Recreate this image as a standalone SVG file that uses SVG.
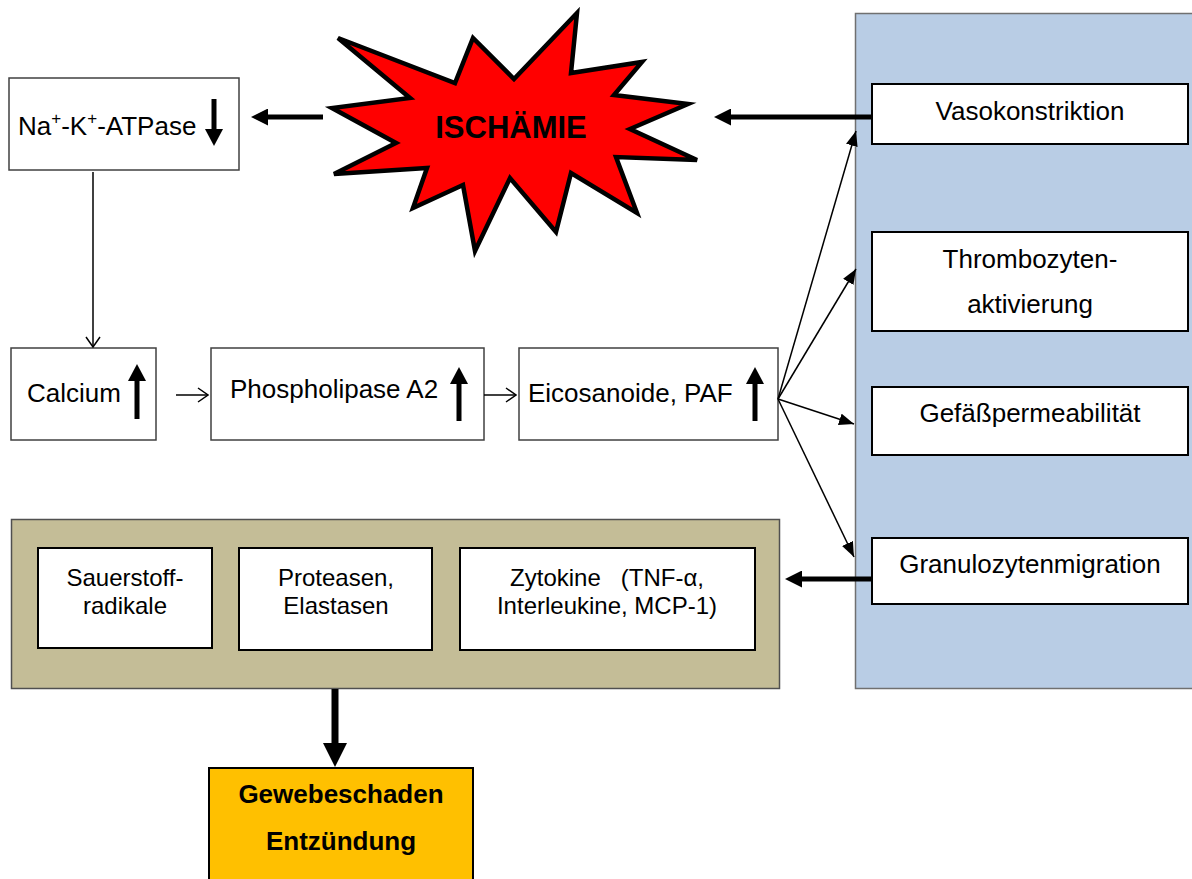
<svg xmlns="http://www.w3.org/2000/svg" width="1192" height="879" viewBox="0 0 1192 879">
<style>
text{font-family:"Liberation Sans",Arial,sans-serif;font-size:26px;fill:#000}
.b{font-weight:bold}
.c{text-anchor:middle}
.s{font-size:24px}
.sup{font-size:17px}
.box{fill:#fff;stroke:#404040;stroke-width:1.5}
.wbox{fill:#fff;stroke:#000;stroke-width:2}
.thin{stroke:#000;stroke-width:1.5;fill:none}
.thick{stroke:#000;stroke-width:5;fill:none}
</style>
<defs>
<marker id="hA" markerUnits="userSpaceOnUse" markerWidth="17" markerHeight="17" viewBox="0 0 17 17" refX="0" refY="8.5" orient="auto"><path d="M0,0 L17,8.5 L0,17 z" fill="#000"/></marker>
<marker id="hB" markerUnits="userSpaceOnUse" markerWidth="24" markerHeight="24" viewBox="0 0 24 24" refX="0" refY="12" orient="auto"><path d="M0,0 L24,12 L0,24 z" fill="#000"/></marker>
<marker id="hC" markerUnits="userSpaceOnUse" markerWidth="17" markerHeight="18" viewBox="0 0 17 18" refX="0" refY="9" orient="auto"><path d="M0,0 L17,9 L0,18 z" fill="#000"/></marker>
<marker id="hD" markerUnits="userSpaceOnUse" markerWidth="15" markerHeight="12" viewBox="0 0 15 12" refX="15" refY="6" orient="auto"><path d="M0,0 L15,6 L0,12 z" fill="#000"/></marker>
<marker id="hV" markerUnits="userSpaceOnUse" markerWidth="12" markerHeight="16" viewBox="-1 -1 12 16" refX="10" refY="7" orient="auto"><path d="M0,0 L10,7 L0,14" fill="none" stroke="#000" stroke-width="1.5"/></marker>
</defs>

<g id="panel-right">
<rect x="855.5" y="13.5" width="340" height="675" fill="#B9CDE5" stroke="#707070" stroke-width="1.5"/>
</g>
<g id="panel-bottom">
<rect x="11.5" y="519.5" width="768" height="169" fill="#C4BD97" stroke="#505050" stroke-width="1.5"/>
</g>

<g id="ischaemie">
<polygon points="338,38 455,83 473,38 514,79 577,13 571,73 642,62 614,95 688,104 630,129 697,160 616,157 637,213 571,173 556,232 510,178 475,251 463,185 413,208 427,168 334,174 396,143 332,108 410,98" fill="#FF0000" stroke="#000" stroke-width="4.5" stroke-linejoin="miter"/>
<text class="b c" x="511" y="138" style="font-size:31px">ISCHÄMIE</text>
</g>

<g id="na-k-atpase">
<rect class="box" x="9" y="78" width="230" height="92"/>
<text x="18" y="135">Na<tspan class="sup" dy="-11">+</tspan><tspan dy="11">-K</tspan><tspan class="sup" dy="-11">+</tspan><tspan dy="11">-ATPase</tspan></text>
<line class="thick" x1="214" y1="99" x2="214" y2="129" marker-end="url(#hC)"/>
</g>

<g id="calcium">
<rect class="box" x="11" y="348" width="145" height="92"/>
<text x="27" y="402">Calcium</text>
<line class="thick" x1="137" y1="419" x2="137" y2="381" marker-end="url(#hC)"/>
</g>

<g id="phospholipase">
<rect class="box" x="211" y="348" width="273" height="92"/>
<text x="230" y="398">Phospholipase A2</text>
<line class="thick" x1="459" y1="421" x2="459" y2="384" marker-end="url(#hC)"/>
</g>

<g id="eicosanoide">
<rect class="box" x="519" y="348" width="259" height="92"/>
<text x="528" y="402">Eicosanoide, PAF</text>
<line class="thick" x1="755" y1="421" x2="755" y2="384" marker-end="url(#hC)"/>
</g>

<g id="vasokonstriktion">
<rect class="wbox" x="872" y="84" width="316" height="60"/>
<text class="c" x="1030" y="120">Vasokonstriktion</text>
</g>

<g id="thrombozyten">
<rect class="wbox" x="872" y="232" width="316" height="99"/>
<text class="c" x="1030" y="268">Thrombozyten-</text>
<text class="c" x="1030" y="313">aktivierung</text>
</g>

<g id="gefaesspermeabilitaet">
<rect class="wbox" x="872" y="387" width="316" height="68"/>
<text class="c" x="1030" y="422">Gefäßpermeabilität</text>
</g>

<g id="granulozytenmigration">
<rect class="wbox" x="872" y="538" width="316" height="66"/>
<text class="c" x="1030" y="573">Granulozytenmigration</text>
</g>

<g id="sauerstoffradikale">
<rect class="wbox" x="38" y="548" width="174" height="100"/>
<text class="c s" x="125" y="586">Sauerstoff-</text>
<text class="c s" x="125" y="614">radikale</text>
</g>

<g id="proteasen">
<rect class="wbox" x="239" y="548" width="193" height="102"/>
<text class="c s" x="336" y="586">Proteasen,</text>
<text class="c s" x="336" y="614">Elastasen</text>
</g>

<g id="zytokine">
<rect class="wbox" x="460" y="548" width="295" height="102"/>
<text class="c s" x="607" y="586" xml:space="preserve">Zytokine   (TNF-α,</text>
<text class="c s" x="607" y="614">Interleukine, MCP-1)</text>
</g>

<g id="gewebeschaden">
<rect x="209" y="768" width="264" height="130" fill="#FFC000" stroke="#000" stroke-width="2"/>
<text class="b c" x="341" y="803">Gewebeschaden</text>
<text class="b c" x="341" y="850">Entzündung</text>
</g>

<g id="connectors">
<line class="thick" x1="323" y1="117" x2="268" y2="117" marker-end="url(#hA)"/>
<line class="thick" x1="872" y1="117" x2="731" y2="117" marker-end="url(#hA)"/>
<line class="thick" x1="872" y1="579" x2="802" y2="579" marker-end="url(#hA)"/>
<line x1="335" y1="689" x2="335" y2="743" stroke="#000" stroke-width="7" marker-end="url(#hB)"/>
<line class="thin" x1="93" y1="172" x2="93" y2="347" marker-end="url(#hV)"/>
<line class="thin" x1="176" y1="395" x2="208" y2="395" marker-end="url(#hV)"/>
<line class="thin" x1="484" y1="395" x2="516" y2="395" marker-end="url(#hV)"/>
<line class="thin" x1="778" y1="399" x2="856" y2="131" marker-end="url(#hD)"/>
<line class="thin" x1="778" y1="399" x2="856" y2="269" marker-end="url(#hD)"/>
<line class="thin" x1="778" y1="399" x2="854" y2="424" marker-end="url(#hD)"/>
<line class="thin" x1="778" y1="399" x2="854" y2="557" marker-end="url(#hD)"/>
</g>
</svg>
